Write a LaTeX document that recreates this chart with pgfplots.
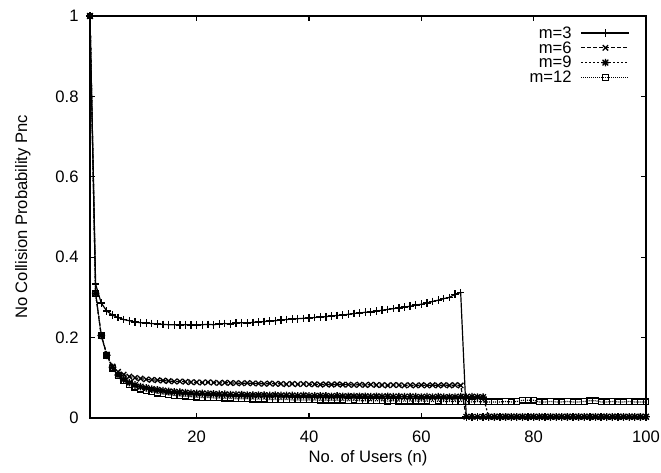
\documentclass[border=0pt]{standalone}
\usepackage{pgfplots}
\pgfplotsset{compat=1.18}
\usepackage{pgfplotstable}
\usepackage{fontspec}
\setmainfont{Liberation Sans}

\pgfdeclareplotmark{gpstar}{%
  \pgfpathmoveto{\pgfqpoint{-\pgfplotmarksize}{0pt}}\pgfpathlineto{\pgfqpoint{\pgfplotmarksize}{0pt}}%
  \pgfpathmoveto{\pgfqpoint{0pt}{-\pgfplotmarksize}}\pgfpathlineto{\pgfqpoint{0pt}{\pgfplotmarksize}}%
  \pgfpathmoveto{\pgfqpoint{-.75\pgfplotmarksize}{-.75\pgfplotmarksize}}\pgfpathlineto{\pgfqpoint{.75\pgfplotmarksize}{.75\pgfplotmarksize}}%
  \pgfpathmoveto{\pgfqpoint{-.75\pgfplotmarksize}{.75\pgfplotmarksize}}\pgfpathlineto{\pgfqpoint{.75\pgfplotmarksize}{-.75\pgfplotmarksize}}%
  \pgfusepathqstroke}

\pgfplotstableread{
n m3 m6 m9 m12
1 1.000 1.000 1.000 1.000
2 0.333 0.310 0.310 0.310
3 0.286 0.206 0.205 0.205
4 0.266 0.158 0.156 0.156
5 0.256 0.128 0.126 0.124
6 0.250 0.115 0.107 0.105
7 0.245 0.108 0.096 0.092
8 0.242 0.103 0.088 0.083
9 0.239 0.100 0.082 0.077
10 0.237 0.098 0.078 0.072
11 0.236 0.096 0.075 0.068
12 0.235 0.095 0.072 0.065
13 0.234 0.094 0.070 0.062
14 0.233 0.093 0.068 0.060
15 0.232 0.092 0.066 0.058
16 0.232 0.091 0.065 0.056
17 0.231 0.091 0.064 0.055
18 0.232 0.090 0.063 0.054
19 0.231 0.089 0.062 0.053
20 0.231 0.089 0.061 0.052
21 0.232 0.088 0.061 0.051
22 0.233 0.089 0.060 0.051
23 0.232 0.088 0.060 0.050
24 0.234 0.087 0.059 0.050
25 0.235 0.088 0.059 0.049
26 0.234 0.087 0.058 0.049
27 0.236 0.087 0.058 0.048
28 0.237 0.086 0.058 0.048
29 0.236 0.087 0.057 0.048
30 0.238 0.086 0.057 0.047
31 0.239 0.086 0.057 0.047
32 0.240 0.085 0.057 0.047
33 0.241 0.086 0.056 0.046
34 0.242 0.085 0.057 0.046
35 0.244 0.085 0.056 0.046
36 0.245 0.084 0.056 0.046
37 0.246 0.085 0.056 0.045
38 0.247 0.084 0.055 0.045
39 0.248 0.085 0.056 0.045
40 0.249 0.084 0.055 0.045
41 0.250 0.084 0.055 0.045
42 0.251 0.083 0.055 0.044
43 0.252 0.084 0.055 0.044
44 0.254 0.083 0.054 0.044
45 0.255 0.084 0.055 0.044
46 0.256 0.083 0.054 0.044
47 0.258 0.083 0.054 0.043
48 0.260 0.082 0.054 0.044
49 0.261 0.083 0.054 0.043
50 0.263 0.082 0.054 0.043
51 0.264 0.083 0.053 0.043
52 0.266 0.082 0.054 0.043
53 0.268 0.082 0.053 0.043
54 0.270 0.081 0.054 0.042
55 0.272 0.082 0.053 0.043
56 0.274 0.082 0.053 0.042
57 0.276 0.081 0.053 0.042
58 0.278 0.082 0.053 0.042
59 0.281 0.081 0.053 0.042
60 0.283 0.082 0.052 0.042
61 0.286 0.081 0.053 0.042
62 0.290 0.082 0.052 0.041
63 0.293 0.081 0.053 0.042
64 0.297 0.082 0.052 0.041
65 0.300 0.081 0.052 0.041
66 0.308 0.082 0.052 0.041
67 0.312 0.081 0.053 0.041
68 0.003 0.003 0.052 0.041
69 0.003 0.003 0.053 0.040
70 0.003 0.003 0.052 0.041
71 0.003 0.003 0.052 0.040
72 0.003 0.003 0.003 0.040
73 0.003 0.003 0.003 0.040
74 0.003 0.003 0.003 0.040
75 0.003 0.003 0.003 0.041
76 0.003 0.003 0.003 0.040
77 0.003 0.003 0.003 0.041
78 0.003 0.003 0.003 0.044
79 0.003 0.003 0.003 0.044
80 0.003 0.003 0.003 0.044
81 0.003 0.003 0.003 0.040
82 0.003 0.003 0.003 0.040
83 0.003 0.003 0.003 0.041
84 0.003 0.003 0.003 0.040
85 0.003 0.003 0.003 0.040
86 0.003 0.003 0.003 0.041
87 0.003 0.003 0.003 0.040
88 0.003 0.003 0.003 0.040
89 0.003 0.003 0.003 0.041
90 0.003 0.003 0.003 0.043
91 0.003 0.003 0.003 0.043
92 0.003 0.003 0.003 0.040
93 0.003 0.003 0.003 0.040
94 0.003 0.003 0.003 0.041
95 0.003 0.003 0.003 0.040
96 0.003 0.003 0.003 0.040
97 0.003 0.003 0.003 0.041
98 0.003 0.003 0.003 0.040
99 0.003 0.003 0.003 0.040
100 0.003 0.003 0.003 0.040
}\datatable

\begin{document}
\begin{tikzpicture}[font=\fontsize{8.3}{10}\selectfont]
\begin{axis}[
  scale only axis,
  width=278pt, height=201pt,
  xmin=1, xmax=100, ymin=0, ymax=1,
  xtick={20,40,60,80,100},
  ytick={0,0.2,0.4,0.6,0.8,1},
  yticklabels={0,0.2,0.4,0.6,0.8,1},
  /pgf/number format/assume math mode=true,
  axis line style={line width=0.8pt},
  major tick length=2.5pt,
  tick style={line width=0.6pt, black},
  tick label style={font=\fontsize{8.3}{10}\selectfont},
  xticklabel style={yshift=-3pt},
  yticklabel style={xshift=-2.2pt},
  xlabel={No. of Users (n)},
  ylabel={No Collision Probability Pnc},
  label style={font=\fontsize{8.3}{10}\selectfont},
  xlabel style={at={(axis description cs:0.5,0)}, anchor=center, yshift=-20pt},
  ylabel style={at={(axis description cs:-0.121,0.5)}, anchor=center},
  legend plot pos=right,
  legend cell align=right,
  legend style={draw=none, fill=none, inner sep=0pt, outer sep=0pt,
    at={(axis description cs:1,1)}, anchor=north east, xshift=-8pt, yshift=-4.8pt,
    font=\fontsize{8.3}{10}\selectfont, row sep=0pt, column sep=4pt,
    nodes={inner sep=0.6pt, text height=5.7pt, text depth=0.5pt}},
  legend image code/.code={%
    \draw[#1, mark repeat=2, mark phase=2] plot coordinates {(0pt,0pt) (12pt,0pt) (24pt,0pt)};},
]
\addplot[black, line width=0.6pt, solid, mark=+, mark size=1.9pt, mark options={solid, line width=0.65pt}] table[x=n, y=m3] {\datatable};
\addlegendentry{m=3}
\addplot[black, line width=0.6pt, dash pattern=on 2pt off 1pt, mark=x, mark size=1.9pt, mark options={solid, line width=0.65pt}] table[x=n, y=m6] {\datatable};
\addlegendentry{m=6}
\addplot[black, line width=0.6pt, dash pattern=on 1pt off 1pt, mark=gpstar, mark size=1.9pt, mark options={solid, line width=0.65pt}] table[x=n, y=m9] {\datatable};
\addlegendentry{m=9}
\addplot[black, line width=0.6pt, dash pattern=on 0.5pt off 0.5pt, mark=square, mark size=1.4pt, mark options={solid, line width=0.65pt}] table[x=n, y=m12] {\datatable};
\addlegendentry{m=12}
\coordinate (bl) at (rel axis cs:0,0);
\coordinate (tr) at (rel axis cs:1,1);
\end{axis}
\pgfresetboundingbox
\path ([xshift=-45pt,yshift=-27pt]bl) rectangle ([xshift=7.5pt,yshift=8pt]tr);
\end{tikzpicture}
\end{document}
